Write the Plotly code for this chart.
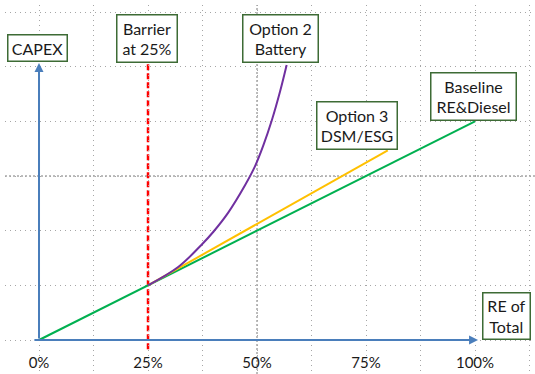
import plotly.graph_objects as go

# Renewable share (x) tick positions every 12.5 %, labels only on the quarters
re_tick_vals = [0.0, 0.125, 0.25, 0.375, 0.5, 0.625, 0.75, 0.875, 1.0, 1.125]
re_tick_text = ["0%", "", "25%", "", "50%", "", "75%", "", "100%", ""]

# Scenario curves: CAPEX (relative units) versus renewable share
baseline_re = [0.0, 1.0]
baseline_capex = [0.0, 4.0]

dsm_re = [0.25, 0.80]
dsm_capex = [1.0, 3.47]

battery_re = [0.25, 0.32, 0.375, 0.40, 0.434, 0.4725, 0.495, 0.5145, 0.534, 0.553, 0.568]
battery_capex = [1.0, 1.34, 1.76, 1.98, 2.33, 2.83, 3.17, 3.56, 4.02, 4.55, 5.03]

barrier_re = 0.25

AXIS_BLUE = "#4a7ebb"
BOX_GREEN = "#3d6b35"
GRID = "#a6a6a6"
FONT = "Lato"

fig = go.Figure()

fig.add_trace(go.Scatter(x=baseline_re, y=baseline_capex, mode="lines",
                         line=dict(color="#00b050", width=2), hoverinfo="skip"))
fig.add_trace(go.Scatter(x=dsm_re, y=dsm_capex, mode="lines",
                         line=dict(color="#ffc000", width=2), hoverinfo="skip"))
fig.add_trace(go.Scatter(x=battery_re, y=battery_capex, mode="lines",
                         line=dict(color="#7030a0", width=2, shape="spline", smoothing=1.0),
                         hoverinfo="skip"))

# Darker centre grid lines
fig.add_shape(type="line", xref="x", yref="paper", x0=0.5, x1=0.5, y0=0, y1=1,
              line=dict(color="#7a7a7a", width=1, dash="2px,2px"), layer="below")
fig.add_shape(type="line", xref="paper", yref="y", x0=0, x1=1, y0=3, y1=3,
              line=dict(color="#7a7a7a", width=1, dash="2px,2px"), layer="below")

# Barrier line
fig.add_shape(type="line", xref="x", yref="y", x0=barrier_re, x1=barrier_re,
              y0=-0.17, y1=5.067,
              line=dict(color="#ff0000", width=2.5, dash="6px,3px"), layer="below")

annotations = []

# Axis arrows
annotations.append(dict(x=0, y=5.067, ax=0, ay=0, xref="x", yref="y", axref="x", ayref="y",
                        text="", showarrow=True, arrowhead=2, arrowsize=0.9, arrowwidth=2,
                        arrowcolor=AXIS_BLUE))
annotations.append(dict(x=1.007, y=0, ax=-0.014, ay=0, xref="x", yref="y", axref="x", ayref="y",
                        text="", showarrow=True, arrowhead=2, arrowsize=0.9, arrowwidth=2,
                        arrowcolor=AXIS_BLUE))

# Label boxes: (text, x, y, width, height)
boxes = [
    ("CAPEX", -0.0034, 5.34, 61, 28),
    ("Barrier<br>at 25%", 0.2477, 5.515, 62, 49),
    ("Option 2<br>Battery", 0.554, 5.515, 77, 49),
    ("Option 3<br>DSM/ESG", 0.729, 3.924, 82, 49),
    ("Baseline<br>RE&amp;Diesel", 0.9966, 4.454, 87, 49),
    ("RE of<br>Total", 1.072, 0.439, 49, 48),
]
for text, bx, by, w, h in boxes:
    annotations.append(dict(x=bx, y=by, xref="x", yref="y", text=text, showarrow=False,
                            xanchor="center", yanchor="middle", align="center",
                            width=w - 3, height=h - 3, valign="middle",
                            bgcolor="white", bordercolor=BOX_GREEN, borderwidth=1.5,
                            borderpad=0, font=dict(family=FONT, size=16, color="#1a1a1a")))

fig.update_layout(
    width=535, height=374,
    margin=dict(l=5, r=0, t=5, b=0),
    paper_bgcolor="white", plot_bgcolor="white",
    showlegend=False,
    annotations=annotations,
    xaxis=dict(range=[-0.078, 1.1376], tickmode="array", tickvals=re_tick_vals,
               ticktext=re_tick_text, ticks="", ticklabelposition="inside",
               tickfont=dict(family=FONT, size=15, color="#1a1a1a"),
               showgrid=True, gridcolor=GRID, griddash="1px,4px", gridwidth=1,
               zeroline=False, showline=False, fixedrange=True),
    yaxis=dict(range=[-0.622, 6.128], dtick=1, tick0=0, showticklabels=False, ticks="",
               showgrid=True, gridcolor=GRID, griddash="1px,4px", gridwidth=1,
               zeroline=False, showline=False, fixedrange=True),
)

fig.write_html("out.html")
